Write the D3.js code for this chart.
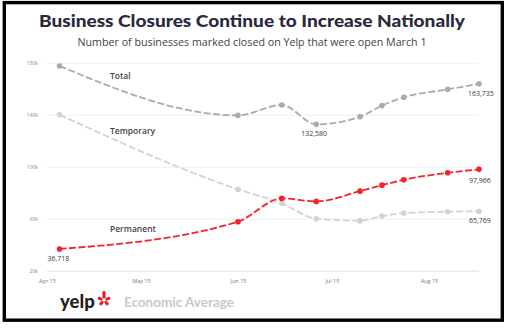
<!DOCTYPE html>
<html>
<head>
<meta charset="utf-8">
<script src="https://cdnjs.cloudflare.com/ajax/libs/d3/7.8.5/d3.min.js"></script>
<style>
  body { margin: 0; background: #fff; }
  svg { display: block; }
</style>
</head>
<body>
<div id="chart"></div>
<script>
// closure counts (thousands) on each Yelp report date
var dates = ["2020-04-19", "2020-06-15", "2020-06-29", "2020-07-10", "2020-07-24",
             "2020-07-31", "2020-08-07", "2020-08-21", "2020-08-31"];
var totalVals = [177.5, 139.5, 147.5, 132.58, 138.5, 147, 153.4, 159.5, 163.735];
var temporaryVals = [140, 82.6, 71.8, 60, 58.5, 62, 64.3, 65.4, 65.769];
var permanentVals = [36.718, 57.7, 75.6, 73.3, 81.2, 85.8, 90, 95.3, 97.966];
var yTicks = [20, 60, 100, 140, 180];
var xTicks = ["2020-04-15", "2020-05-15", "2020-06-15", "2020-07-15", "2020-08-15"];

function main(){
    buildChart();
}

function buildChart(){
    var W = 512, H = 328;
    var parse = d3.timeParse("%Y-%m-%d");
    var fmt = d3.format(",");

    var svg = d3.select("#chart")
        .append("svg")
            .attr("width", W)
            .attr("height", H);

    // frame
    svg.append("rect")
        .attr("x", 4.3).attr("y", 2.6)
        .attr("width", 498).attr("height", 317.6)
        .attr("fill", "#fff")
        .attr("stroke", "#000")
        .attr("stroke-width", 3.4);

    svg.append("text")
        .attr("x", 252).attr("y", 27)
        .attr("text-anchor", "middle")
        .attr("font-family", "Lato, sans-serif")
        .attr("font-weight", 900)
        .attr("font-size", 17.5)
        .attr("fill", "#2b2a3c")
        .attr("textLength", 426)
        .attr("lengthAdjust", "spacingAndGlyphs")
        .text("Business Closures Continue to Increase Nationally");

    svg.append("text")
        .attr("x", 252).attr("y", 46)
        .attr("text-anchor", "middle")
        .attr("font-family", "'Open Sans', sans-serif")
        .attr("font-size", 10.5)
        .attr("fill", "#444")
        .attr("textLength", 349)
        .attr("lengthAdjust", "spacingAndGlyphs")
        .text("Number of businesses marked closed on Yelp that were open March 1");

    var xScale = d3.scaleTime()
        .domain([parse("2020-04-15"), parse("2020-08-31")])
        .range([47, 479]);
    var yScale = d3.scaleLinear()
        .domain([20, 180])
        .range([270.7, 62.7]);

    // horizontal grid + y labels
    var gy = svg.append("g")
        .call(d3.axisLeft(yScale).tickValues(yTicks)
            .tickSize(-(479 - 47)).tickPadding(9)
            .tickFormat(function(d){ return d + "k"; }))
        .attr("transform", "translate(47,0)");
    gy.select(".domain").remove();
    gy.selectAll("line").attr("stroke", function(d){ return d == 20 ? "#e3e3e3" : "#efefef"; });
    gy.selectAll("text")
        .attr("font-family", "'Open Sans', sans-serif")
        .attr("font-size", 5)
        .attr("fill", "#888");

    var gx = svg.append("g")
        .attr("transform", "translate(0,272)")
        .call(d3.axisBottom(xScale).tickValues(xTicks.map(parse))
            .tickSize(0).tickPadding(7)
            .tickFormat(d3.timeFormat("%b %d")));
    gx.select(".domain").remove();
    gx.selectAll("text")
        .attr("font-family", "'Open Sans', sans-serif")
        .attr("font-size", 5.5)
        .attr("fill", "#777");

    var series = [
        {name: "Temporary", vals: temporaryVals, color: "#d3d3d3", lx: 110, ly: 134},
        {name: "Total", vals: totalVals, color: "#b4a9a2", lx: 110, ly: 79},
        {name: "Permanent", vals: permanentVals, color: "#f5212b", lx: 110, ly: 232}
    ];

    var line = d3.line()
        .x(function(d){ return xScale(d.date); })
        .y(function(d){ return yScale(d.v); })
        .curve(d3.curveMonotoneX);

    series.forEach(function(s){
        var pts = dates.map(function(d, i){ return {date: parse(d), v: s.vals[i]}; });
        svg.append("path")
            .datum(pts)
            .attr("d", line)
            .attr("fill", "none")
            .attr("stroke", s.color)
            .attr("stroke-width", 1.8)
            .attr("stroke-dasharray", "7,2.5");
        svg.selectAll(".pt-" + s.name)
            .data(pts)
            .enter().append("circle")
            .attr("cx", function(d){ return xScale(d.date); })
            .attr("cy", function(d){ return yScale(d.v); })
            .attr("r", 2.8)
            .attr("fill", s.color);
        svg.append("text")
            .attr("x", s.lx).attr("y", s.ly)
            .attr("font-family", "'Open Sans', sans-serif")
            .attr("font-weight", 600)
            .attr("font-size", 8.5)
            .attr("fill", "#444")
            .text(s.name);
    });

    // value call-outs
    var callouts = [
        {vals: totalVals, i: 8, dx: -11, dy: 12},
        {vals: totalVals, i: 3, dx: -15, dy: 12},
        {vals: permanentVals, i: 8, dx: -10, dy: 14},
        {vals: permanentVals, i: 0, dx: -12, dy: 12},
        {vals: temporaryVals, i: 8, dx: -10, dy: 12}
    ];
    callouts.forEach(function(c){
        svg.append("text")
            .attr("x", xScale(parse(dates[c.i])) + c.dx)
            .attr("y", yScale(c.vals[c.i]) + c.dy)
            .attr("font-family", "'Open Sans', sans-serif")
            .attr("font-size", 7)
            .attr("fill", "#3a3a3a")
            .text(fmt(Math.round(c.vals[c.i] * 1000)));
    });

    // yelp mark
    svg.append("text")
        .attr("x", 60).attr("y", 308)
        .attr("font-family", "Lato, sans-serif")
        .attr("font-weight", 900)
        .attr("font-size", 18.5)
        .attr("fill", "#1f1f1f")
        .text("yelp");
    var burst = svg.append("g").attr("transform", "translate(104,300)");
    [-90, -18, 50, 130, 200].forEach(function(a, i){
        burst.append("rect")
            .attr("x", 1.5).attr("y", -1.5)
            .attr("width", i == 0 ? 7.5 : 5).attr("height", 3)
            .attr("rx", 1.3)
            .attr("fill", "#e81b23")
            .attr("transform", "rotate(" + a + ")");
    });
    svg.append("text")
        .attr("x", 124).attr("y", 307)
        .attr("font-family", "Lato, sans-serif")
        .attr("font-weight", 700)
        .attr("font-size", 13.5)
        .attr("fill", "#c9c9c9")
        .text("Economic Average");
}

main();
</script>
</body>
</html>
